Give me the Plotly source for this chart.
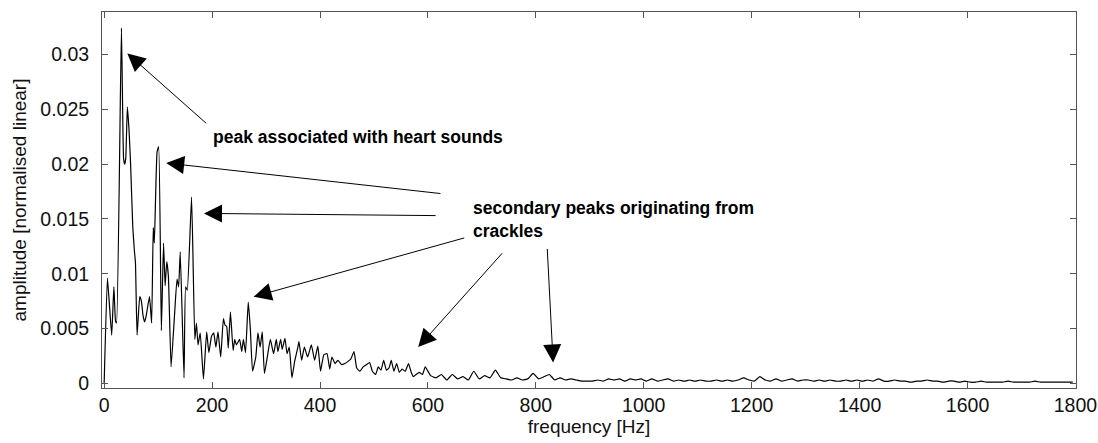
import plotly.graph_objects as go

# ---- low-frequency part of the spectrum ----
freq_low = [0, 6, 10, 14, 18, 21, 23, 32, 36, 38, 40, 43, 46, 49, 53, 56, 58, 61,
            66, 69, 72, 75, 78, 84, 88, 91, 93, 98, 101, 106, 110, 113, 116, 119,
            124, 130, 135, 138, 141, 148, 151, 154, 162, 168, 171, 174, 178, 184,
            190, 194, 199, 203, 207, 211, 216, 221, 224, 227, 230, 234, 239, 242,
            245, 251, 255, 258, 262, 267, 271, 275, 281, 285, 289, 293, 297, 303,
            308, 314, 319, 322, 327, 330, 335, 339, 343, 348, 353, 359, 361, 366,
            371, 377, 384, 390, 396, 401, 407, 413, 418, 422, 428, 433, 440, 446,
            452, 457, 463, 468, 474, 480, 486, 492, 497, 503, 508, 513, 518, 523,
            528, 532, 537, 542, 547, 552, 558, 564, 569, 573, 578, 584, 590, 595]
amp_low = [0.0000, 0.0096, 0.0070, 0.0044, 0.0088, 0.0057, 0.0055, 0.0324, 0.0205,
           0.0200, 0.0205, 0.0252, 0.0232, 0.0200, 0.0143, 0.0121, 0.0110, 0.0044,
           0.0079, 0.0075, 0.0062, 0.0056, 0.0062, 0.0079, 0.0055, 0.0142, 0.0128,
           0.0211, 0.0216, 0.0048, 0.0128, 0.0089, 0.0111, 0.0098, 0.0015, 0.0059,
           0.0095, 0.0088, 0.0120, 0.0005, 0.0088, 0.0085, 0.0170, 0.0040, 0.0055,
           0.0035, 0.0046, 0.0004, 0.0047, 0.0028, 0.0043, 0.0046, 0.0033, 0.0047,
           0.0024, 0.0059, 0.0053, 0.0052, 0.0032, 0.0065, 0.0030, 0.0040, 0.0035,
           0.0040, 0.0029, 0.0040, 0.0028, 0.0074, 0.0049, 0.0011, 0.0024, 0.0046,
           0.0033, 0.0047, 0.0009, 0.0026, 0.0040, 0.0027, 0.0040, 0.0029, 0.0040,
           0.0031, 0.0041, 0.0027, 0.0033, 0.0005, 0.0020, 0.0033, 0.0038, 0.0021,
           0.0033, 0.0024, 0.0035, 0.0021, 0.0034, 0.0011, 0.0026, 0.0027, 0.0013,
           0.0024, 0.0018, 0.0021, 0.0017, 0.0018, 0.0020, 0.0022, 0.0029, 0.0014,
           0.0011, 0.0015, 0.0017, 0.0019, 0.0011, 0.0008, 0.0015, 0.0012, 0.0021,
           0.0012, 0.0014, 0.0021, 0.0011, 0.0018, 0.0010, 0.0013, 0.0011, 0.0018,
           0.0010, 0.0006, 0.0008, 0.0010, 0.0008, 0.0015]

# ---- high-frequency tail (605 .. 1795 Hz every 10 Hz) ----
freq_tail = list(range(605, 1800, 10))
amp_tail = [0.0007, 0.0005, 0.0008, 0.0003, 0.0008, 0.0004, 0.0006, 0.0003, 0.0011, 0.0004,
            0.0007, 0.0005, 0.0012, 0.0005, 0.0004, 0.0003, 0.0005, 0.0003, 0.0004, 0.0009,
            0.0004, 0.0006, 0.0008, 0.0003, 0.0005, 0.0003, 0.0004, 0.0003, 0.0002, 0.0002,
            0.0002, 0.0003, 0.0002, 0.0004, 0.0003, 0.0004, 0.0002, 0.0004, 0.0003, 0.0004,
            0.0002, 0.0004, 0.0002, 0.0003, 0.0004, 0.0002, 0.0003, 0.0002, 0.0003, 0.0002,
            0.0003, 0.0002, 0.0002, 0.0003, 0.0002, 0.0003, 0.0002, 0.0003, 0.0005, 0.0003,
            0.0002, 0.0006, 0.0003, 0.0002, 0.0004, 0.0002, 0.0003, 0.0004, 0.0002, 0.0003,
            0.0003, 0.0002, 0.0003, 0.0002, 0.0003, 0.0002, 0.0002, 0.0003, 0.0002, 0.0003,
            0.0002, 0.0003, 0.0002, 0.0004, 0.0002, 0.0002, 0.0003, 0.0002, 0.0002, 0.0001,
            0.0002, 0.0002, 0.0003, 0.0002, 0.0002, 0.0001, 0.0002, 0.0002, 0.0001, 0.0002,
            0.0001, 0.0001, 0.0002, 0.0001, 0.0001, 0.0001, 0.0001, 0.0002, 0.0001, 0.0001,
            0.0001, 0.0001, 0.0002, 0.0001, 0.0001, 0.0001, 0.0001, 0.0001, 0.0001, 0.0001]

assert len(freq_low) == len(amp_low)
assert len(freq_tail) == len(amp_tail)

freq = freq_low + freq_tail
amp = amp_low + amp_tail

x_ticks = [0, 200, 400, 600, 800, 1000, 1200, 1400, 1600, 1800]
y_ticks = [0, 0.005, 0.01, 0.015, 0.02, 0.025, 0.03]
y_tick_text = ["0", "0.005", "0.01", "0.015", "0.02", "0.025", "0.03"]

FONT = "Liberation Sans, Arial, sans-serif"
AXC = "#555555"

fig = go.Figure()
fig.add_trace(go.Scatter(x=freq, y=amp, mode="lines",
                         line=dict(color="black", width=1.2, shape="spline", smoothing=0.4),
                         hoverinfo="skip"))

# arrows: (tip_f, tip_v, tail_f, tail_v)
arrows = [
    (43, 0.0301, 192, 0.0236),
    (115, 0.0201, 626, 0.0173),
    (185, 0.0155, 617, 0.0153),
    (277, 0.0079, 670, 0.0133),
    (582, 0.0033, 740, 0.0120),
    (832, 0.0019, 821, 0.0124),
]
annotations = []
for tf, tv, sf, sv in arrows:
    annotations.append(dict(x=tf, y=tv, ax=sf, ay=sv, xref="x", yref="y",
                            axref="x", ayref="y", text="", showarrow=True,
                            arrowhead=2, arrowsize=3.6, arrowwidth=1,
                            arrowcolor="black", standoff=0, startstandoff=0))

label_font = dict(family=FONT, size=17.5, color="black")
annotations += [
    dict(x=198, y=0.0225, xref="x", yref="y", text="<b>peak associated with heart sounds</b>",
         showarrow=False, xanchor="left", yanchor="middle", font=label_font),
    dict(x=680, y=0.01495, xref="x", yref="y",
         text="<b>secondary peaks originating from</b><br><b>crackles</b>",
         showarrow=False, xanchor="left", yanchor="middle", align="left", font=label_font),
]

fig.update_layout(
    width=1098, height=443,
    margin=dict(l=102, r=22, t=12, b=55, autoexpand=False),
    paper_bgcolor="white", plot_bgcolor="white",
    showlegend=False,
    font=dict(family=FONT, size=19, color="#111111"),
    annotations=annotations,
)
fig.update_xaxes(
    range=[-4, 1801], tickvals=x_ticks, ticks="inside", ticklen=6,
    tickcolor=AXC, showline=True, linecolor=AXC, linewidth=1, mirror="allticks",
    showgrid=False, zeroline=False, ticklabeloverflow="allow", automargin=False,
    title=dict(text="frequency [Hz]", standoff=3, font=dict(size=19)),
    tickfont=dict(size=19.5),
)
fig.update_yaxes(
    range=[-0.00043, 0.03388], tickvals=y_ticks, ticktext=y_tick_text,
    ticks="inside", ticklen=6, tickcolor=AXC, showline=True, linecolor=AXC,
    linewidth=1, mirror="allticks", showgrid=False, zeroline=False, automargin=False,
    title=dict(text="amplitude [normalised linear]", standoff=8, font=dict(size=19)),
    tickfont=dict(size=19.5), ticklabelstandoff=8,
)

fig.write_html("out.html")
